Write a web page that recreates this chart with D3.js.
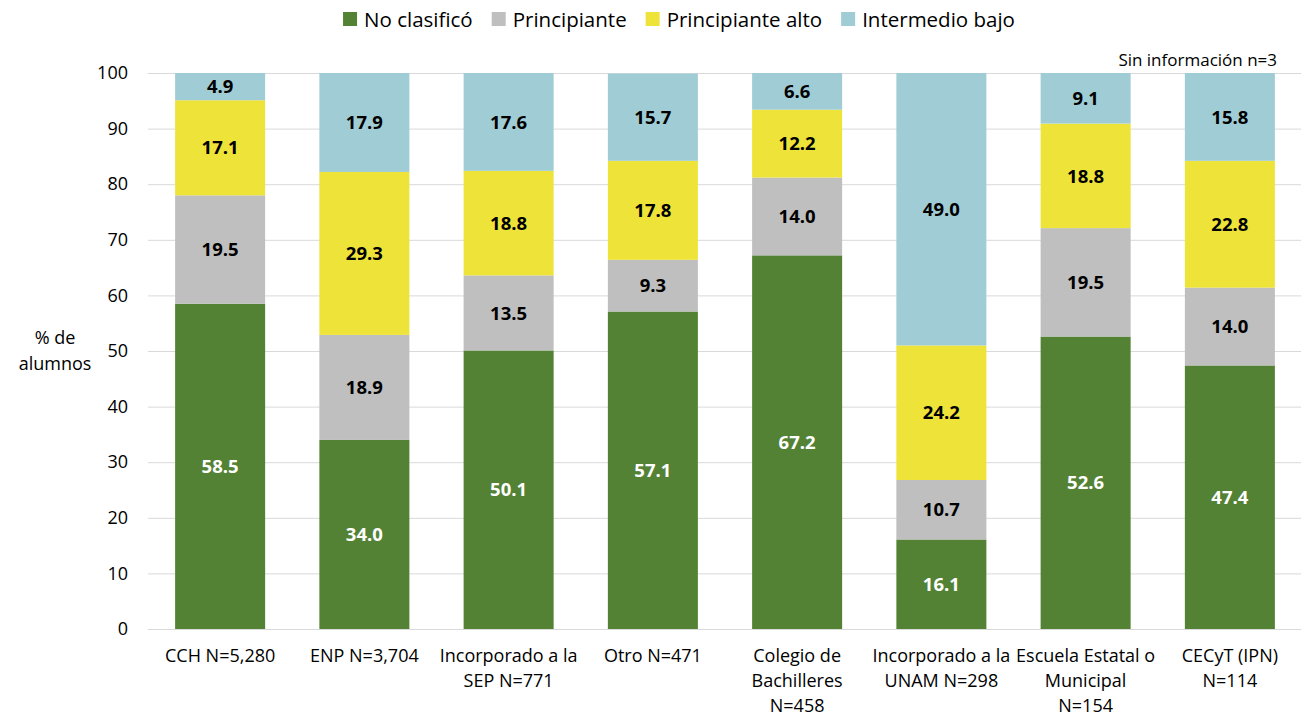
<!DOCTYPE html>
<html>
<head>
<meta charset="utf-8">
<script src="https://cdn.jsdelivr.net/npm/d3@7"></script>
<style>
  body { margin: 0; background: #fff; }
  svg { font-family: "Open Sans", Lato, sans-serif; }
</style>
</head>
<body>
<svg id="chart" width="1301" height="717"></svg>
<script>
// School types (x labels, line breaks as drawn)
const categories = [
  "CCH N=5,280",
  "ENP N=3,704",
  "Incorporado a la\nSEP N=771",
  "Otro N=471",
  "Colegio de\nBachilleres\nN=458",
  "Incorporado a la\nUNAM N=298",
  "Escuela Estatal o\nMunicipal\nN=154",
  "CECyT (IPN)\nN=114"
];
const seriesNames = ["No clasificó", "Principiante", "Principiante alto", "Intermedio bajo"];
// Percent of students per level, one value per category
const noClasifico      = [58.5, 34.0, 50.1, 57.1, 67.2, 16.1, 52.6, 47.4];
const principiante     = [19.5, 18.9, 13.5,  9.3, 14.0, 10.7, 19.5, 14.0];
const principianteAlto = [17.1, 29.3, 18.8, 17.8, 12.2, 24.2, 18.8, 22.8];
const intermedioBajo   = [ 4.9, 17.9, 17.6, 15.7,  6.6, 49.0,  9.1, 15.8];
const yTicks = [0, 10, 20, 30, 40, 50, 60, 70, 80, 90, 100];

const colors = ["#548235", "#bfbfbf", "#eee338", "#a0cdd5"];
const labelColors = ["#ffffff", "#000000", "#000000", "#000000"];

const svg = d3.select("#chart");
const W = 1301, H = 717;
const plot = { left: 148, right: 1302, top: 73, bottom: 629 };

const x = d3.scaleBand()
  .domain(categories)
  .range([plot.left, plot.right])
  .paddingInner(0.376)
  .paddingOuter(0.188);
const y = d3.scaleLinear().domain([0, 100]).range([plot.bottom, plot.top]);

// gridlines
svg.append("g")
  .selectAll("line")
  .data(yTicks)
  .join("line")
  .attr("x1", plot.left).attr("x2", W)
  .attr("y1", d => y(d) + 0.5).attr("y2", d => y(d) + 0.5)
  .attr("stroke", "#d9d9d9").attr("stroke-width", 1);

// y axis labels
const yAxis = d3.axisLeft(y).tickValues(yTicks).tickSize(0).tickPadding(20);
svg.append("g")
  .attr("transform", `translate(${plot.left},0)`)
  .call(yAxis)
  .call(g => g.select(".domain").remove())
  .call(g => g.selectAll("text")
    .attr("font-family", "'Open Sans', sans-serif")
    .attr("font-size", 18).attr("fill", "#000"));

// y axis title
svg.append("text")
  .attr("y", 344)
  .attr("text-anchor", "middle")
  .attr("font-size", 18)
  .selectAll("tspan")
  .data(["% de", "alumnos"])
  .join("tspan")
  .attr("x", 55)
  .attr("dy", (d, i) => i === 0 ? 0 : 26)
  .text(d => d);

// stacked data
const rows = categories.map((c, i) => ({
  cat: c,
  s0: noClasifico[i], s1: principiante[i], s2: principianteAlto[i], s3: intermedioBajo[i]
}));
const stack = d3.stack().keys(["s0", "s1", "s2", "s3"]);
const layers = stack(rows);
const segTop = v => y(Math.min(v, 100));

svg.append("g")
  .selectAll("g")
  .data(layers)
  .join("g")
  .attr("fill", (d, i) => colors[i])
  .selectAll("rect")
  .data(d => d)
  .join("rect")
  .attr("x", d => x(d.data.cat))
  .attr("width", x.bandwidth())
  .attr("y", d => segTop(d[1]))
  .attr("height", d => y(d[0]) - segTop(d[1]));

// value labels
layers.forEach((layer, li) => {
  svg.append("g")
    .selectAll("text")
    .data(layer)
    .join("text")
    .attr("x", d => x(d.data.cat) + x.bandwidth() / 2)
    .attr("y", d => (y(d[0]) + segTop(d[1])) / 2)
    .attr("dy", "0.36em")
    .attr("text-anchor", "middle")
    .attr("font-weight", "bold")
    .attr("font-size", 18.5)
    .attr("fill", labelColors[li])
    .text(d => (d[1] - d[0]).toFixed(1));
});

// x labels
svg.append("g")
  .selectAll("text")
  .data(categories)
  .join("text")
  .attr("text-anchor", "middle")
  .attr("font-size", 18)
  .attr("y", 662)
  .selectAll("tspan")
  .data(d => d.split("\n").map(t => ({ t, c: d })))
  .join("tspan")
  .attr("x", d => x(d.c) + x.bandwidth() / 2)
  .attr("dy", (d, i) => i === 0 ? 0 : 25)
  .text(d => d.t);

// note
svg.append("text")
  .attr("x", 1277).attr("y", 66)
  .attr("text-anchor", "end")
  .attr("font-size", 17)
  .text("Sin información n=3");

// legend, laid out from measured text widths and centred
const lg = svg.append("g");
const items = lg.selectAll("g")
  .data(seriesNames)
  .join("g");
items.append("rect")
  .attr("y", 12).attr("width", 14).attr("height", 14)
  .attr("fill", (d, i) => colors[i]);
items.append("text")
  .attr("x", 21).attr("y", 27)
  .attr("font-size", 20.5)
  .text(d => d);
const itemGap = 19;
let cx = 0;
items.each(function () {
  const g = d3.select(this);
  g.attr("transform", `translate(${cx},0)`);
  cx += 21 + g.select("text").node().getComputedTextLength() + itemGap;
});
const legendWidth = cx - itemGap;
lg.attr("transform", `translate(${679 - legendWidth / 2},0)`);
</script>
</body>
</html>
